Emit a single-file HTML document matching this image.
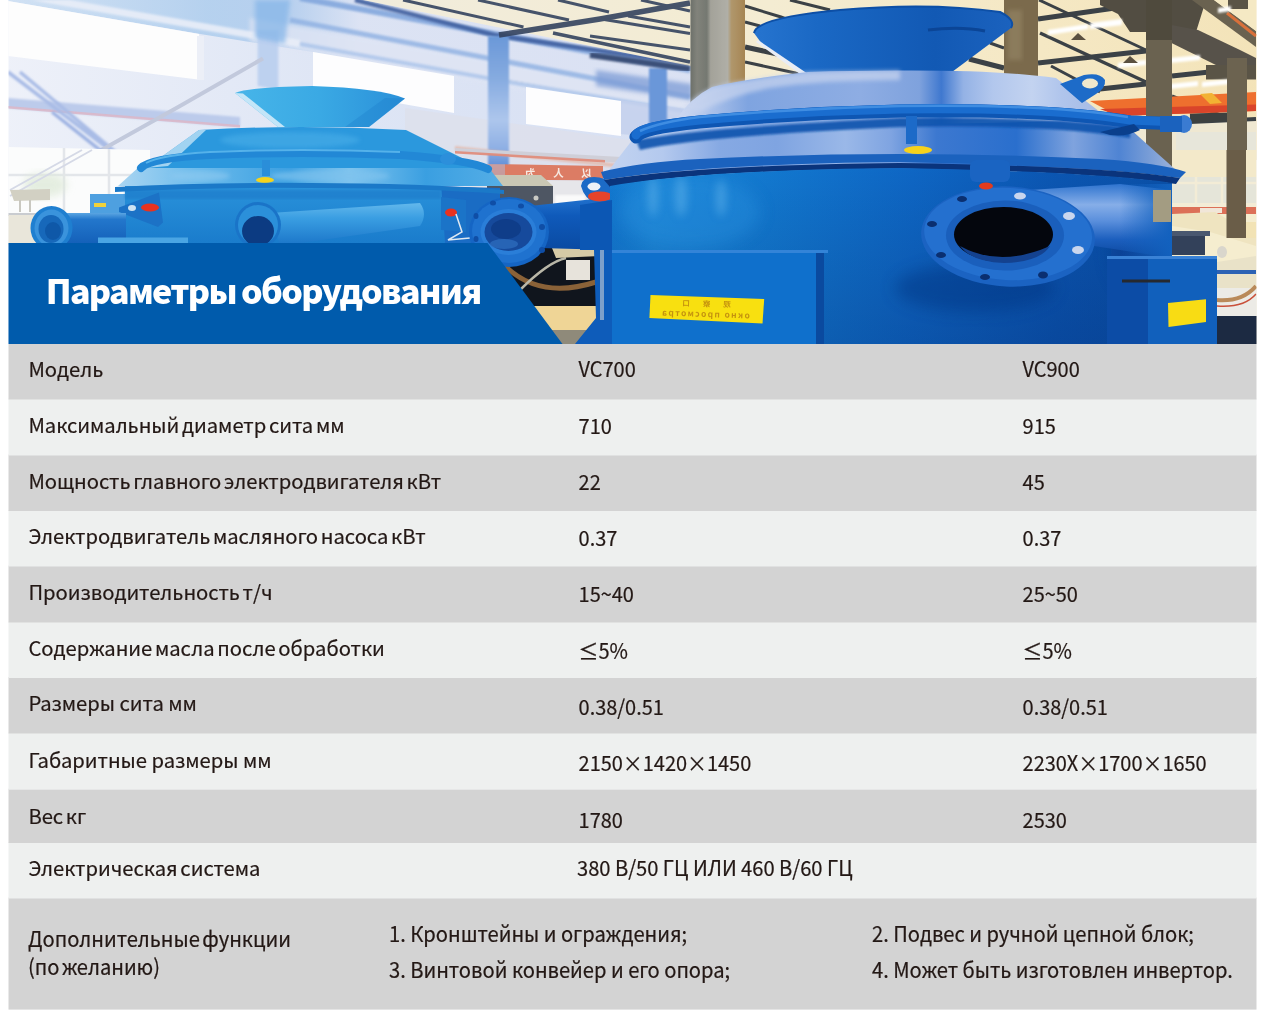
<!DOCTYPE html>
<html lang="ru"><head><meta charset="utf-8"><title>Параметры оборудования</title>
<style>
html,body{margin:0;padding:0;background:#fff}
body{width:1268px;height:1020px;position:relative;overflow:hidden;font-family:"Noto Sans CJK SC","Liberation Sans",sans-serif;color:#231815}
.t{position:absolute;font-size:20px;line-height:40px;height:40px;white-space:nowrap;letter-spacing:-0.04px;transform-origin:0 28.7px}
.a{font-size:20.25px;word-spacing:-1.8px;transform:scaleY(1.004)}
.a2{word-spacing:0}
.t{-webkit-text-stroke:0.2px #231815}
.v{transform:scaleY(1.05)}
.w{transform:scale(1.009,1.064)}
.f{transform:translateY(0.9px) scale(1.01,1.077)}
.le{font-family:"Noto Sans CJK JP","Noto Sans CJK SC",sans-serif}
#photo{position:absolute;left:0;top:0;width:1268px;height:344px}
#ttl{position:absolute;left:45.7px;top:263.7px;font-size:34px;font-weight:900;color:#fff;line-height:50px;letter-spacing:-1.7px;word-spacing:-0.85px;white-space:nowrap;transform:translateY(0.6px)}
</style></head><body>
<svg id="photo" viewBox="0 0 1268 344" width="1268" height="344">
<defs>
<clipPath id="cp"><rect x="8.5" y="0" width="1248" height="344"/></clipPath>
<filter id="b1" x="-10%" y="-10%" width="120%" height="120%"><feGaussianBlur stdDeviation="1"/></filter>
<filter id="b2" x="-10%" y="-10%" width="120%" height="120%"><feGaussianBlur stdDeviation="2"/></filter>
<filter id="b4" x="-20%" y="-20%" width="140%" height="140%"><feGaussianBlur stdDeviation="4"/></filter>
<filter id="b8" x="-30%" y="-30%" width="160%" height="160%"><feGaussianBlur stdDeviation="8"/></filter>
<linearGradient id="gwall" x1="0" y1="0" x2="1" y2="0"><stop offset="0" stop-color="#eef1f9"/><stop offset="0.45" stop-color="#dfe6f5"/><stop offset="1" stop-color="#d6dff3"/></linearGradient>
<linearGradient id="gtop" x1="0" y1="0" x2="1" y2="0"><stop offset="0" stop-color="#c9ddf2"/><stop offset="0.3" stop-color="#a6c9ec"/><stop offset="0.42" stop-color="#a9c8ec"/><stop offset="0.52" stop-color="#dbe2f3"/><stop offset="1" stop-color="#dce2f3"/></linearGradient>
</defs>
<g clip-path="url(#cp)">
<!-- ===== left hazy workshop wall ===== -->
<rect x="0" y="0" width="700" height="344" fill="url(#gwall)"/>
<!-- top hazy blue band above windows -->
<polygon points="0,0 365,0 690,64 690,120 620,101 526,87 510,84 454,76 313,52 200,34 8,1" fill="url(#gtop)" opacity="0.75"/>
<polygon points="250,18 700,96 700,120 250,42" fill="#dfe5f4" opacity="0.8" filter="url(#b2)"/>
<!-- white beam stripe in top band -->
<polygon points="30,0 70,0 300,40 300,47" fill="#e9eef8" opacity="0.9" filter="url(#b1)"/>
<!-- bluish beams (hazy) -->
<path d="M300,-2 L690,70" stroke="#7fa4dc" stroke-width="6" opacity="0.85" fill="none" filter="url(#b1)"/>
<path d="M355,0 L494,35 L690,64" stroke="#3f5f9f" stroke-width="4.5" fill="none" opacity="0.9" filter="url(#b1)"/>
<path d="M290,20 L690,97" stroke="#8eb0e2" stroke-width="5" opacity="0.8" filter="url(#b1)"/>
<path d="M300,44 L520,84 L690,112" stroke="#a9c3ea" stroke-width="4" opacity="0.8" filter="url(#b1)"/>
<polygon points="596,70 692,84 692,100 596,86" fill="#7d9cd6" opacity="0.75" filter="url(#b2)"/>
<polygon points="620,100 692,110 692,140 620,134" fill="#c3d0ec" opacity="0.8"/>
<!-- windows -->
<polygon points="8,1 199,34 202,80 8,56" fill="#fdfdfd"/>
<polygon points="313,52 454,76 454,113 313,88" fill="#fdfdfe"/>
<polygon points="526,87 621,101 621,136 526,124" fill="#fdfdfe"/>
<rect x="197" y="36" width="7" height="44" fill="#eceff7"/>
<polygon points="405,108 700,150 700,200 405,160" fill="#dde0ec" opacity="0.9"/>
<!-- pillars -->
<polygon points="257.6,30 278.4,30 278.4,90 257.6,86" fill="#bcd0ef" opacity="0.95" filter="url(#b1)"/>
<polygon points="255,0 290,0 285,44 255,38" fill="#86b6e8" opacity="0.75" filter="url(#b2)"/>
<linearGradient id="gp1" x1="0" y1="0" x2="0" y2="1"><stop offset="0" stop-color="#6a98d8"/><stop offset="0.3" stop-color="#86abe0"/><stop offset="0.6" stop-color="#adc6ec"/><stop offset="0.8" stop-color="#8fb0e4"/><stop offset="1" stop-color="#4a7fd0"/></linearGradient>
<rect x="488" y="36" width="21" height="140" fill="url(#gp1)" filter="url(#b1)"/>
<rect x="649" y="68" width="18" height="60" fill="#6a97d9" filter="url(#b1)"/>
<!-- horizontal beam left and cross braces -->
<polygon points="8,98 240,117 240,127 8,108" fill="#bccbeb" filter="url(#b1)"/>
<polygon points="8,106 240,125 240,127.5 8,108.5" fill="#dcb4c4" opacity="0.8"/>
<path d="M8,72 L110,150 M20,72 L125,160" stroke="#a9bce6" fill="none" stroke-width="3.5" filter="url(#b1)"/>
<path d="M263,58.5 L180,106 L105,148 L40,178" stroke="#c2c9dc" fill="none" stroke-width="4"/>
<path d="M52,112 L100,150 L140,178" stroke="#9db2e2" fill="none" stroke-width="3.5" filter="url(#b1)"/>
<!-- lower-left bright window area -->
<polygon points="8,147 150,150 150,243 8,243" fill="#fbfcfc"/>
<path d="M64,148 V214 M109,149 V214 M8,175 H140" stroke="#e3e6ea" stroke-width="2.5" fill="none"/>
<ellipse cx="45" cy="185" rx="22" ry="12" fill="#dfead9" opacity="0.8" filter="url(#b4)"/>
<path d="M10,190 L82,150 M10,196 L92,150" stroke="#d5d9e6" stroke-width="2" fill="none"/>
<polygon points="10,190 50,189 50,200 14,201" fill="#d2d0c3"/>
<path d="M20,200 V212 M30,200 V212" stroke="#c9c8c0" stroke-width="2" fill="none"/>
<rect x="8" y="213" width="130" height="3" fill="#c9ccd0"/>
<rect x="8" y="215" width="130" height="30" fill="#e9e6da"/>
<rect x="90" y="194" width="36" height="20" fill="#4ea0e0"/>
<rect x="94" y="203" width="12" height="4" fill="#f0d23a"/>
<!-- wall lower mid (between machines) -->
<polygon points="455,146 640,166 640,170 455,150" fill="#e4b7a8" opacity="0.8" filter="url(#b1)"/>

<!-- ===== ceiling / right background ===== -->
<linearGradient id="gceil" x1="0" y1="0" x2="1" y2="0"><stop offset="0" stop-color="#f1ecdc"/><stop offset="0.45" stop-color="#f4ecd2"/><stop offset="0.75" stop-color="#f5e8c4"/><stop offset="1" stop-color="#f3e3b8"/></linearGradient>
<polygon points="363,0 1268,0 1268,160 1000,160 690,66" fill="url(#gceil)"/>
<!-- lower right cream wall with windows -->
<rect x="1090" y="118" width="178" height="230" fill="#efe8d2"/>
<rect x="1176" y="132" width="80" height="34" fill="#e7e6da"/>
<rect x="1176" y="172" width="80" height="30" fill="#ebe6d3"/>
<!-- hazy purlins on left ceiling (x 363..690) -->
<g stroke="#34435f" fill="none" opacity="0.9">
<path d="M403,0 L523.5,27" stroke-width="3"/>
<path d="M478,0 L569,20" stroke-width="3"/>
<path d="M558,0 L609,12" stroke-width="3"/>
<path d="M499,35 L600,19 L690,3" stroke-width="5.5"/>
<path d="M553,33 L690,62" stroke-width="3.5"/>
<path d="M601,19 L690,33.5" stroke-width="3"/>
<path d="M628,16 L690,27" stroke-width="3"/>
<path d="M641,0 L690,11" stroke-width="3"/>
<path d="M590,36 L690,50" stroke-width="3"/>
</g>
<path d="M590,55 L690,69" stroke="#3b4f78" stroke-width="6" fill="none" filter="url(#b1)"/>
<!-- right ceiling beams -->
<g stroke="#3b4146" fill="none">
<path d="M745,6 L781,17 L810,28" stroke-width="3"/>
<path d="M745,47 L791,57" stroke-width="5"/>
<path d="M745,62 L800,74" stroke-width="3"/>
<path d="M745,22 L760,26" stroke-width="3"/>
<path d="M790,0 L830,10" stroke-width="3"/>
<path d="M1038,19 L1115,8" stroke-width="5"/>
<path d="M1038,63 L1146,51" stroke-width="5"/>
<path d="M1100,89 L1146,84" stroke-width="5"/>
<path d="M1039,0 L1146,50" stroke-width="3"/>
<path d="M1040,33 L1146,82" stroke-width="3.5"/>
<path d="M1051,66 L1100,92" stroke-width="3"/>
<path d="M990,43 L1004,48" stroke-width="3"/>
<path d="M969,59 L1004,68" stroke-width="5"/>
<path d="M1172,76 L1228,70" stroke-width="5"/>
<path d="M1172,96 L1228,118" stroke-width="3"/>
<path d="M1190,122 L1256,119" stroke-width="4"/>
</g>
<!-- truss top right -->
<polygon points="1100,0 1206,0 1196,32 1130,32 1118,14 1100,5" fill="#524d42"/>
<polygon points="1192,0 1214,0 1256,31 1256,47" fill="#6a6250"/>
<polygon points="1171.5,25 1198,30 1240,50 1256,58 1256,77 1230,72 1171.5,43" fill="#57524a"/>
<polygon points="1214,0 1256,0 1256,31" fill="#f5e9c4"/>
<path d="M1227,13 L1256,36" stroke="#d9703a" stroke-width="3" fill="none"/>
<rect x="1228" y="0" width="20" height="9" fill="#5a5446"/>
<rect x="1206" y="65" width="50" height="14.5" fill="#5a5446"/>
<path d="M1190,118 L1228,117" stroke="#3d4140" stroke-width="9" fill="none"/>
<!-- orange crane -->
<polygon points="1090,101 1256,92 1256,111 1118,116" fill="#ee6f2e"/>
<polygon points="1100,109 1256,104.5 1256,111 1118,116" fill="#d9442a"/>
<polygon points="1200,94 1212,93 1222,103 1210,104" fill="#f2b233"/>
<!-- lights -->
<g fill="#ffffff" filter="url(#b1)">
<polygon points="1048,30 1088,24 1088,29 1048,35"/>
<polygon points="1090,23 1122,19 1122,25 1090,29"/>
<polygon points="1118,63 1146,60 1146,65 1118,68"/>
<polygon points="1170,58 1200,55 1200,60 1170,63"/>
<polygon points="1170,84 1198,81 1198,86 1170,89"/>
<polygon points="1202,82 1230,79 1230,84 1202,87"/>
<polygon points="1218,8 1231,6 1231,11 1218,13"/>
<polygon points="830,12 868,8 868,12 830,17"/>
</g>
<polygon points="1071,40 1078,33 1086,40" fill="#5a5040"/><polygon points="1123,63 1130,56 1138,63" fill="#5a5040"/>
<!-- columns -->
<linearGradient id="gcolD" x1="0" y1="0" x2="1" y2="0"><stop offset="0" stop-color="#767b75"/><stop offset="0.12" stop-color="#8e9189"/><stop offset="0.3" stop-color="#7f847d"/><stop offset="0.37" stop-color="#b5b5ac"/><stop offset="0.68" stop-color="#c4c4bc"/><stop offset="0.75" stop-color="#c4a877"/><stop offset="1" stop-color="#b8935a"/></linearGradient>
<rect x="690.5" y="0" width="54.5" height="120" fill="url(#gcolD)"/><rect x="690.5" y="0" width="54.5" height="120" fill="#3a3428" opacity="0.14"/>
<rect x="1004" y="0" width="34" height="90" fill="#7b6a4c"/>
<rect x="1008" y="10" width="14" height="50" fill="#8b7b5c" filter="url(#b2)"/>
<rect x="1146" y="0" width="26" height="170" fill="#6a6250"/>
<rect x="1146" y="0" width="26" height="40" fill="#4f4a3d"/>
<rect x="1227" y="58" width="20" height="181" fill="#6c6350"/>

<!-- far right lower items -->
<rect x="1172" y="150" width="84" height="27" fill="#f3e9ca"/>
<rect x="1172" y="177" width="84" height="26" fill="#e5e5d9"/>
<path d="M1196,177 V203 M1222,177 V203 M1172,183 H1256" stroke="#f3ecd6" stroke-width="2.5" fill="none"/>
<rect x="1172" y="203" width="84" height="4" fill="#f3ecd6"/>
<rect x="1172" y="207" width="84" height="7" fill="#dc7058"/>
<rect x="1200" y="208" width="22" height="5" fill="#f1e6d8"/>
<polygon points="1172,214 1256,214 1256,276 1172,270" fill="#f5edcf"/>
<polygon points="1172,214 1215,212 1256,236 1256,246 1210,232 1172,226" fill="#efe4c0"/>
<rect x="1226.5" y="150" width="19.5" height="88" fill="#6a5d48"/>
<rect x="1246" y="222" width="10" height="16" fill="#f2e3b5"/>
<rect x="1172" y="231" width="33" height="24" fill="#33415a"/>
<rect x="1172" y="231" width="38" height="5" fill="#4a5870"/>
<polygon points="1217,262 1256,256 1256,292 1217,292" fill="#e9e2c8"/>
<rect x="1217" y="270" width="39" height="4" fill="#2c62b4"/>
<ellipse cx="1222" cy="252" rx="5" ry="6" fill="#d9d6cc"/>
<rect x="1217" y="288" width="40" height="30" fill="#ecebe6"/>
<path d="M1217,300 Q1242,302 1256,286" stroke="#b98a5a" stroke-width="4" fill="none"/>
<path d="M1217,306 Q1244,308 1256,294" stroke="#c9503a" stroke-width="1.5" fill="none"/>
<rect x="1217" y="316" width="40" height="30" fill="#1c2a42"/>

<!-- ===== area below right pipe (dark, hose, wood) ===== -->
<polygon points="470,240 612,240 612,344 540,344" fill="#10151d"/>
<polygon points="530,306 600,306 600,344 556,344" fill="#efd596"/>
<polygon points="540,330 596,330 596,344 556,344" fill="#8f8a7a"/>
<path d="M505,266 Q540,300 596,282" stroke="#8a6238" stroke-width="5" fill="none"/>
<path d="M520,290 Q548,262 566,258" stroke="#b9b7a8" stroke-width="2.5" fill="none"/>
<rect x="566" y="260" width="24" height="20" fill="#e7e3db"/>
<polygon points="552,248 600,244 600,256 556,258" fill="#d6caa6"/>

<!-- ===== left machine (hazy cyan-blue) ===== -->
<linearGradient id="glh" x1="0" y1="0" x2="1" y2="0"><stop offset="0" stop-color="#47b5e9"/><stop offset="0.5" stop-color="#3aa9e4"/><stop offset="1" stop-color="#2a90d9"/></linearGradient>
<linearGradient id="glb" x1="0" y1="0" x2="0" y2="1"><stop offset="0" stop-color="#2a93db"/><stop offset="1" stop-color="#1a7ccc"/></linearGradient>
<!-- background things right of left machine: red banner, motor -->
<polygon points="455,148 640,158 640,164 455,152" fill="#cfcfd8"/>
<polygon points="455,151 605,160 605,162.5 455,153.5" fill="#e08a78" opacity="0.9"/>
<polygon points="505,164.3 603,166 603,180.5 505,179.6" fill="#dc7c64"/>
<polygon points="470,164 505,164.3 505,179.6 470,178" fill="#e3a090" opacity="0.8"/>
<g transform="translate(558.4,177) scale(-1,1)" fill="#f6e9e2" text-anchor="middle" font-family="'Noto Sans CJK SC','Liberation Sans',sans-serif" font-size="10.5" font-weight="700"><text x="8.8" y="0" letter-spacing="17.6">以人为</text></g>
<polygon points="470,180 640,181 640,215 470,215" fill="#e6e6ea"/>
<rect x="555" y="195" width="30" height="9" fill="#fafafa" filter="url(#b1)"/>
<polygon points="487,175 541,175 553,186 487,186" fill="#c9c7b4"/>
<polygon points="487,186 553,186 553,204 540,207 487,204" fill="#4e5663"/>
<ellipse cx="536" cy="198" rx="2.5" ry="2.5" fill="#c9c9c4"/>
<!-- body -->
<path d="M430,186 L500,188 L500,243 L430,243 Z" fill="#1a6cc4"/>
<path d="M125,184 L441,184 L445,243 L125,243 Z" fill="url(#glb)"/>
<path d="M125,190 L441,190 L441,199 L125,199 Z" fill="#1b78c8" opacity="0.55" filter="url(#b1)"/>
<!-- lower band -->
<linearGradient id="gllb" x1="0" y1="0" x2="1" y2="0"><stop offset="0" stop-color="#a9d5f2"/><stop offset="0.2" stop-color="#6ebcec"/><stop offset="0.45" stop-color="#3a9fe1"/><stop offset="0.6" stop-color="#7fc4ee"/><stop offset="0.8" stop-color="#3a9fe1"/><stop offset="1" stop-color="#55aee6"/></linearGradient>
<path d="M118,186 L140,166 L489,168 L503,186 Z" fill="url(#gllb)"/>
<ellipse cx="330" cy="176" rx="60" ry="6" fill="#7fc3ee" opacity="0.7" filter="url(#b2)"/>
<ellipse cx="200" cy="176" rx="30" ry="5" fill="#8fcaf0" opacity="0.6" filter="url(#b2)"/>
<!-- upper cone -->
<path d="M146,168 L199,130 Q300,124 406,130 L482,168 Z" fill="#2b98dd"/>
<path d="M146,168 L199,130 L206,130 L168,166 Z" fill="#bfe2f6" opacity="0.8"/>
<ellipse cx="290" cy="140" rx="70" ry="8" fill="#48aee8" opacity="0.6" filter="url(#b2)"/>
<!-- hopper -->
<path d="M235,93 Q250,87 312,86 Q380,88 405,98.5 L369,127 L278,127 Z" fill="url(#glh)"/>
<path d="M405,98.5 L369,127 L345,127 L385,98 Z" fill="#1c7dcc" opacity="0.35"/>
<path d="M235,93 L278,127 L285,127 L243,93.5 Z" fill="#d9eefa" opacity="0.85"/>
<!-- ring tube -->
<path d="M141,168 Q150,158 210,155 Q300,151 400,155 Q470,160 488,169" fill="none" stroke="#2288d6" stroke-width="8" stroke-linecap="round"/>
<path d="M146,163 Q160,155 210,152 Q300,148 400,152" fill="none" stroke="#55b2ea" stroke-width="2"/>
<ellipse cx="448" cy="159" rx="8" ry="6" fill="#2c8fdb"/>
<ellipse cx="265" cy="180" rx="9" ry="3" fill="#f4d31e"/>
<rect x="262" y="160" width="8" height="16" fill="#2a8ed9"/>
<!-- flange rim -->
<path d="M115,187 Q200,182 310,183 Q420,183 504,190 L504,194 Q420,188 310,188 Q200,187 115,192 Z" fill="#1b79c8"/>
<!-- brackets with red ovals -->
<polygon points="119,207.5 159,192.5 163,222.5 158,227 119,212" fill="#1c72c6"/>
<ellipse cx="150" cy="207.5" rx="9" ry="4" fill="#e8321f"/>
<ellipse cx="132" cy="208" rx="4" ry="3" fill="#cfe3f3"/>
<polygon points="441,197 466,200 466,232 441,230" fill="#1b74c8"/>
<ellipse cx="451" cy="212.5" rx="6" ry="4" fill="#e8321f"/>
<path d="M456,214 L462,232 L448,240 L470,238" stroke="#dfe8f2" stroke-width="1.5" fill="none"/>
<!-- middle pipe -->
<linearGradient id="glp" x1="0" y1="0" x2="0" y2="1"><stop offset="0" stop-color="#63b8ec"/><stop offset="0.35" stop-color="#3a9ee2"/><stop offset="1" stop-color="#1a74c8"/></linearGradient>
<path d="M270,213 L420,203 Q428,214 420,226 L280,246 Z" fill="url(#glp)"/>
<ellipse cx="258" cy="225" rx="23" ry="23" fill="#1a74c8"/>
<ellipse cx="258" cy="225" rx="20" ry="20" fill="#2b90da"/>
<ellipse cx="258" cy="231" rx="16" ry="15" fill="#0c3b82"/>
<!-- left pipe -->
<linearGradient id="gllp" x1="0" y1="0" x2="0" y2="1"><stop offset="0" stop-color="#5aa5e2"/><stop offset="0.2" stop-color="#2377cc"/><stop offset="1" stop-color="#135fb8"/></linearGradient>
<rect x="60" y="213" width="66" height="32" fill="url(#gllp)"/>
<ellipse cx="51.5" cy="228" rx="21" ry="22" fill="#1f7fd0"/>
<ellipse cx="51.5" cy="228" rx="17" ry="18.5" fill="#3a93dc"/>
<ellipse cx="51" cy="229" rx="12.5" ry="14" fill="#1768ba"/>
<ellipse cx="53" cy="231" rx="8" ry="9" fill="#0f58a8"/>
<rect x="98" y="237.5" width="90" height="7" fill="#4aa5e4"/>
<!-- right pipe to right machine -->
<linearGradient id="glrp" x1="0" y1="0" x2="0" y2="1"><stop offset="0" stop-color="#2273cf"/><stop offset="0.35" stop-color="#0f5aba"/><stop offset="1" stop-color="#0a4aa2"/></linearGradient>
<path d="M530,206 L612,197 L612,250 L540,248 Z" fill="url(#glrp)"/>
<ellipse cx="509" cy="232" rx="40" ry="35" fill="#1565c4"/>
<ellipse cx="509" cy="231" rx="37" ry="32" fill="#1f72cf"/>
<ellipse cx="508.5" cy="232" rx="28" ry="23" fill="#2a7ed8"/>
<ellipse cx="508.5" cy="232" rx="24" ry="19" fill="#164a9c"/>
<ellipse cx="506" cy="229" rx="15" ry="10" fill="#0e3a85" opacity="0.8"/>
<ellipse cx="504" cy="244" rx="14" ry="5" fill="#2f6fc0" opacity="0.7"/>
<g fill="#0f4ea6"><ellipse cx="493" cy="203" rx="3" ry="2.5"/><ellipse cx="521" cy="206" rx="3" ry="2.5"/><ellipse cx="476" cy="216" rx="2.5" ry="3"/><ellipse cx="542" cy="227" rx="3" ry="3"/><ellipse cx="476" cy="239" rx="2.5" ry="3"/><ellipse cx="542" cy="250" rx="3" ry="3"/></g>
<!-- right machine left bracket -->
<path d="M581,186 Q582,177 594,177 Q606,177 608,184 L614,186 L614,206 L596,204 Q584,198 581,186 Z" fill="#1c6ac6"/>
<ellipse cx="594" cy="186.5" rx="6.5" ry="4" fill="#eef1f7"/>
<ellipse cx="600" cy="196.4" rx="12" ry="5" fill="#e5432a"/>

<!-- ===== right machine ===== -->
<linearGradient id="ghop" x1="0" y1="0" x2="1" y2="0"><stop offset="0" stop-color="#2674cf"/><stop offset="0.25" stop-color="#1a68c4"/><stop offset="0.7" stop-color="#1259b4"/><stop offset="1" stop-color="#1b62be"/></linearGradient>
<!-- hopper -->
<path d="M754,33 Q756,18 840,10 Q930,2 1000,12 Q1016,20 1011,28 L952,72 L806,74 L762,44 Z" fill="url(#ghop)"/>
<path d="M754,33 Q756,18 840,10 Q930,2 1000,12 Q1016,20 1011,28" fill="none" stroke="#0d4fa6" stroke-width="2"/>
<path d="M758,40 L808,74 L800,74 L756,42 Z" fill="#e9edf5"/>
<path d="M928,30 Q960,26 985,31" stroke="#0b4596" stroke-width="3" fill="none"/>
<!-- upper dome -->
<linearGradient id="gdome" x1="0" y1="0" x2="1" y2="0"><stop offset="0" stop-color="#dfe6f6"/><stop offset="0.1" stop-color="#c5d3ef"/><stop offset="0.22" stop-color="#7fa4e0"/><stop offset="0.45" stop-color="#8eade3"/><stop offset="0.57" stop-color="#7fa2dd"/><stop offset="0.615" stop-color="#3f78cf"/><stop offset="0.66" stop-color="#94b2e5"/><stop offset="0.72" stop-color="#b2c7ed"/><stop offset="0.8" stop-color="#c3d3f0"/><stop offset="0.86" stop-color="#b0c5ec"/><stop offset="1" stop-color="#9db3df"/></linearGradient>
<path d="M640,140 L676,120 Q690,98 712,87 Q745,79 808,72 Q850,70.5 900,70.5 Q1000,70 1056,78 L1100,112 L1130,140 Z" fill="url(#gdome)"/>
<path d="M684,108 Q696,94 714,87 Q745,79 808,72 L900,70.5 L900,80 Q820,80 770,88 Q730,96 700,112 Z" fill="#c9d5ef" opacity="0.7" filter="url(#b2)"/>
<path d="M1060,84 L1084,75 Q1100,72 1105,80 Q1106,88 1096,94 L1082,103 Z" fill="#1d6bc8"/>
<ellipse cx="1090" cy="83.5" rx="8" ry="5" fill="#f0e8cc"/>
<!-- lower dome band -->
<linearGradient id="gband" x1="0" y1="0" x2="1" y2="0"><stop offset="0" stop-color="#c3d4f1"/><stop offset="0.1" stop-color="#b4c9ee"/><stop offset="0.2" stop-color="#86a9e3"/><stop offset="0.3" stop-color="#7fa4e1"/><stop offset="0.42" stop-color="#9ab8e8"/><stop offset="0.5" stop-color="#7fa4e1"/><stop offset="0.58" stop-color="#3c78d0"/><stop offset="0.72" stop-color="#2a6fcd"/><stop offset="0.82" stop-color="#7fa3de"/><stop offset="0.9" stop-color="#4f84d3"/><stop offset="1" stop-color="#9db3da"/></linearGradient>
<path d="M606,174 L640,130 L1120,120 L1176,170 Z" fill="url(#gband)"/>
<path d="M636,140 Q700,128 900,118 Q1050,116 1130,128 L1130,138 Q1050,124 900,127 Q700,136 640,150 Z" fill="#0f52ad" opacity="0.9" filter="url(#b1)"/>
<!-- ring tube -->
<path d="M636,137 Q640,128 700,122 Q800,113 900,111 Q1050,109 1130,122 L1180,124" fill="none" stroke="#0e56b3" stroke-width="13" stroke-linecap="round"/>
<path d="M636,135 Q640,126 700,120 Q800,111 900,109 Q1050,107 1130,120 L1180,122" fill="none" stroke="#1a6dcf" stroke-width="9" stroke-linecap="round"/>
<path d="M640,131 Q660,122 700,117 Q800,108 900,106 Q1050,104 1128,117" fill="none" stroke="#3f8de2" stroke-width="2.5"/>
<ellipse cx="1184" cy="124" rx="8" ry="9" fill="#3a7bd2"/>
<rect x="1160" y="116" width="22" height="16" fill="#1b62be"/>
<path d="M1100,132 Q1120,140 1140,130 L1134,124 Z" fill="#0a3f8c"/>
<rect x="906" y="116" width="11" height="28" fill="#1c6ac8"/>
<ellipse cx="918" cy="150" rx="14" ry="4" fill="#f7d21c"/>
<!-- flange rim -->
<path d="M601,172 Q640,162 700,159 Q800,154 900,154 Q1000,154 1100,159 Q1160,163 1186,172 L1180,178 Q1100,166 900,162 Q700,164 604,180 Z" fill="#1b62be"/>
<path d="M604,180 Q700,165 900,163 Q1100,166 1180,178 L1176,184 Q1100,172 900,168.5 Q700,170 610,187 Z" fill="#0a347c"/>
<!-- body -->
<linearGradient id="gbody" x1="0" y1="0" x2="1" y2="0"><stop offset="0" stop-color="#1176d0"/><stop offset="0.1" stop-color="#1a86d8"/><stop offset="0.3" stop-color="#1278cf"/><stop offset="0.55" stop-color="#0e66c4"/><stop offset="0.8" stop-color="#0b56b2"/><stop offset="1" stop-color="#0a50a8"/></linearGradient>
<linearGradient id="gbodyv" x1="0" y1="0" x2="0" y2="1"><stop offset="0" stop-color="#000a30" stop-opacity="0"/><stop offset="1" stop-color="#00104a" stop-opacity="0.2"/></linearGradient>
<path d="M610,186 Q700,170 900,168 Q1100,172 1172,183 L1172,344 L596,344 L610,320 Z" fill="url(#gbody)"/>
<path d="M610,186 Q700,170 900,168 Q1100,172 1172,183 L1172,344 L596,344 L610,320 Z" fill="url(#gbodyv)"/>
<clipPath id="cpb"><path d="M610,186 Q700,170 900,168 Q1100,172 1172,183 L1172,344 L596,344 L610,320 Z"/></clipPath>
<g clip-path="url(#cpb)"><ellipse cx="690" cy="212" rx="70" ry="36" fill="#2a92e0" opacity="0.4" filter="url(#b8)"/><g fill="#5aaee8" opacity="0.6" filter="url(#b4)"><ellipse cx="653" cy="196" rx="5" ry="20"/><ellipse cx="681" cy="196" rx="6" ry="20"/><ellipse cx="721" cy="198" rx="5" ry="18"/></g>
<!-- shadow under big flange -->
<ellipse cx="975" cy="288" rx="80" ry="24" fill="#06337e" opacity="0.45" filter="url(#b8)"/>
<ellipse cx="1150" cy="250" rx="40" ry="50" fill="#07398a" opacity="0.5" filter="url(#b8)"/></g>
<!-- door panel -->
<rect x="610" y="251" width="206" height="95" fill="#0f70cc"/>
<rect x="610" y="250" width="218" height="3" fill="#3384d8"/>
<rect x="816" y="253" width="8" height="93" fill="#0a4a9f"/>
<polygon points="650.5,295 764.2,299 762.5,323.6 649.4,318" fill="#f8e010"/>
<g transform="translate(706.5,309) rotate(2) scale(-1,1)" fill="#c4920f" text-anchor="middle" font-family="'Noto Sans CJK SC','Liberation Sans',sans-serif">
<text x="6.5" y="-2.5" font-size="7.5" letter-spacing="13" font-weight="700">观察口</text>
<text x="1" y="8" font-size="8.4" letter-spacing="1.4" font-weight="700">окно просмотра</text>
</g>
<!-- left connection pipe into body -->
<polygon points="580,205 612,200 612,250 580,250" fill="#0c57b4"/>
<!-- pipe to the right of big flange -->
<linearGradient id="gpipe" x1="0" y1="0" x2="0" y2="1"><stop offset="0" stop-color="#2f74cf"/><stop offset="0.28" stop-color="#86aee8"/><stop offset="0.5" stop-color="#5a8fdc"/><stop offset="0.75" stop-color="#1c5fbe"/><stop offset="1" stop-color="#0b469c"/></linearGradient>
<path d="M1030,190 L1120,184 L1172,190 L1172,258 L1094,246 Z" fill="url(#gpipe)"/>
<linearGradient id="gpe" x1="0" y1="0" x2="1" y2="0"><stop offset="0" stop-color="#1261be" stop-opacity="0"/><stop offset="1" stop-color="#1261be" stop-opacity="1"/></linearGradient>
<rect x="1120" y="184" width="52" height="74" fill="url(#gpe)"/>
<!-- big flange -->
<ellipse cx="1008" cy="236.5" rx="87" ry="50" fill="#1b63c2" transform="rotate(3 1008 236.5)"/>
<ellipse cx="1008" cy="234" rx="84" ry="46" fill="#2470cf" transform="rotate(3 1008 236.5)"/>
<ellipse cx="1005" cy="235.5" rx="59" ry="35" fill="#1a5fbc"/>
<ellipse cx="1003.5" cy="234.5" rx="49.5" ry="27.5" fill="#04060d"/>
<path d="M960,246 Q1000,268 1050,246 Q1040,262 1004,263 Q972,262 960,246 Z" fill="#14428f"/>
<g fill="#c9d6ee">
<ellipse cx="1020" cy="196" rx="6" ry="3.5"/><ellipse cx="1069" cy="216" rx="6" ry="4"/><ellipse cx="1078" cy="250" rx="6" ry="4"/>
<ellipse cx="1043" cy="275" rx="5" ry="3.5" fill="#0a2f70"/><ellipse cx="985" cy="277" rx="5" ry="3" fill="#0a2f70"/><ellipse cx="941" cy="255" rx="5" ry="3" fill="#0a2f70"/>
<ellipse cx="932" cy="224" rx="5" ry="3" fill="#0a2f70"/><ellipse cx="962" cy="199" rx="5" ry="3" fill="#0a2f70"/>
</g>
<!-- small bracket above flange -->
<rect x="970" y="160" width="40" height="22" rx="6" fill="#1a64c2"/>
<ellipse cx="986" cy="186" rx="7" ry="3.5" fill="#e23b1e"/>
<!-- right box -->
<rect x="1107" y="257" width="42" height="89" fill="#0c4ca6"/>
<rect x="1148" y="257" width="69" height="89" fill="#1160bc"/>
<rect x="1107" y="256" width="110" height="3" fill="#3a82d6"/>
<path d="M1122,281 L1170,281" stroke="#26292f" stroke-width="3"/>
<polygon points="1168,303 1206,299.3 1206,322 1168.5,327" fill="#f8dc14"/>
<rect x="1153" y="190" width="18" height="32" fill="#a39c82"/>

<polygon points="594,250 612,250 612,344 575,344 596,318" fill="#0e5cba"/>
<rect x="600" y="250" width="4" height="70" fill="#c9cdd6" opacity="0.6"/>

<polygon points="8,243 487.5,243 562.5,344 8,344" fill="#005bac"/>
</g>
</svg>

<div id="ttl">Параметры оборудования</div>
<svg id="rows" width="1268" height="676" viewBox="0 344 1268 676" style="position:absolute;left:0;top:344px"><rect x="8.5" y="897.5" width="1248" height="112.1" fill="#d3d3d3"/><rect x="8.5" y="842" width="1248" height="56.5" fill="#eef0ef"/><rect x="8.5" y="788.7" width="1248" height="54.3" fill="#d3d3d3"/><rect x="8.5" y="732.5" width="1248" height="57.2" fill="#eef0ef"/><rect x="8.5" y="677" width="1248" height="56.5" fill="#d3d3d3"/><rect x="8.5" y="621.5" width="1248" height="56.5" fill="#eef0ef"/><rect x="8.5" y="565.5" width="1248" height="57.0" fill="#d3d3d3"/><rect x="8.5" y="510" width="1248" height="56.5" fill="#eef0ef"/><rect x="8.5" y="454.5" width="1248" height="56.5" fill="#d3d3d3"/><rect x="8.5" y="398.5" width="1248" height="57.0" fill="#eef0ef"/><rect x="8.5" y="344" width="1248" height="55.5" fill="#d3d3d3"/></svg>
<div class="t a" style="left:28.4px;top:348.8px">Модель</div>
<div class="t a" style="left:28.4px;top:404.8px">Максимальный диаметр сита мм</div>
<div class="t a" style="left:28.4px;top:460.6px">Мощность главного электродвигателя кВт</div>
<div class="t a" style="left:28.4px;top:515.7px">Электродвигатель масляного насоса кВт</div>
<div class="t a" style="left:28.4px;top:572.0px">Производительность т/ч</div>
<div class="t a" style="left:28.4px;top:627.8px">Содержание масла после обработки</div>
<div class="t a a2" style="left:28.4px;top:683.2px">Размеры сита мм</div>
<div class="t a a2" style="left:28.4px;top:740.1px">Габаритные размеры мм</div>
<div class="t a" style="left:28.4px;top:796.4px">Вес кг</div>
<div class="t a" style="left:28.4px;top:847.6px">Электрическая система</div>
<div class="t v" style="left:578.6px;top:349.3px">VC700</div>
<div class="t v" style="left:578.6px;top:405.7px">710</div>
<div class="t v" style="left:578.6px;top:462.3px">22</div>
<div class="t v" style="left:578.6px;top:518.1px">0.37</div>
<div class="t v" style="left:578.6px;top:574.2px">15~40</div>
<div class="t v" style="left:578.6px;top:631.0px"><span class="le" lang="ja">≤</span>5%</div>
<div class="t v" style="left:578.6px;top:687.4px">0.38/0.51</div>
<div class="t v" style="left:578.6px;top:743.4px">2150×1420×1450</div>
<div class="t v" style="left:578.6px;top:799.7px">1780</div>
<div class="t w" style="left:577.0px;top:848.1px">380 В/50 ГЦ ИЛИ 460 В/60 ГЦ</div>
<div class="t v" style="left:1022.6px;top:349.3px">VC900</div>
<div class="t v" style="left:1022.6px;top:405.7px">915</div>
<div class="t v" style="left:1022.6px;top:462.3px">45</div>
<div class="t v" style="left:1022.6px;top:518.1px">0.37</div>
<div class="t v" style="left:1022.6px;top:574.2px">25~50</div>
<div class="t v" style="left:1022.6px;top:631.0px"><span class="le" lang="ja">≤</span>5%</div>
<div class="t v" style="left:1022.6px;top:687.4px">0.38/0.51</div>
<div class="t v" style="left:1022.6px;top:743.4px">2230X×1700×1650</div>
<div class="t v" style="left:1022.6px;top:799.7px">2530</div>
<div class="t f" style="word-spacing:-2px;left:27.8px;top:917.5px">Дополнительные функции</div>
<div class="t f" style="word-spacing:-2px;left:28.4px;top:945.6px">(по желанию)</div>
<div class="t f" style="left:389.4px;top:913.4px">1. Кронштейны и ограждения;</div>
<div class="t f" style="left:389.4px;top:949.4px">3. Винтовой конвейер и его опора;</div>
<div class="t f" style="left:872.4px;top:913.4px">2. Подвес и ручной цепной блок;</div>
<div class="t f" style="left:872.4px;top:949.4px">4. Может быть изготовлен инвертор.</div>
</body></html>
